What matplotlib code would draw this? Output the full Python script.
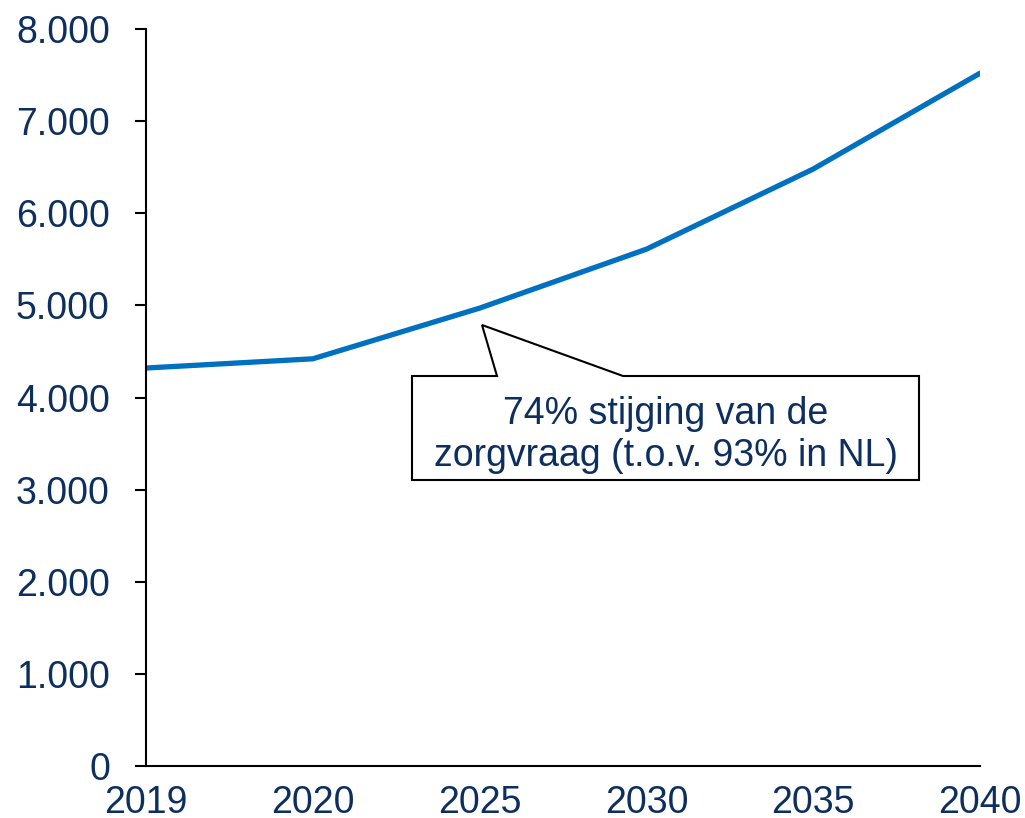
import matplotlib
matplotlib.use("Agg")
import matplotlib.pyplot as plt
from matplotlib.patches import Polygon
from matplotlib.ticker import FuncFormatter, MultipleLocator

years = ["2019", "2020", "2025", "2030", "2035", "2040"]
values = [4320, 4420, 4970, 5610, 6480, 7520]
callout_text = "74% stijging van de\nzorgvraag (t.o.v. 93% in NL)"

W, H = 1025, 818
text_color = "#0D2F5F"
line_color = "#0070C0"

plt.rcParams["font.family"] = ["Liberation Sans", "DejaVu Sans"]
fig = plt.figure(figsize=(W / 100, H / 100), dpi=100)
ax = fig.add_axes([146 / W, 1 - 766 / H, (980 - 146) / W, (766 - 29) / H])

x = list(range(len(years)))
ax.plot(x, values, color=line_color, lw=3.8, solid_capstyle="round", solid_joinstyle="round")
ax.set_xlim(0, len(years) - 1)
ax.set_ylim(0, 8000)
ax.set_xticks(x)
ax.set_xticklabels(years)
ax.yaxis.set_major_locator(MultipleLocator(1000))
ax.yaxis.set_major_formatter(FuncFormatter(lambda v, p: f"{int(v):,}".replace(",", ".")))

for s in ["top", "right"]:
    ax.spines[s].set_visible(False)
for s in ["left", "bottom"]:
    ax.spines[s].set_linewidth(1.5)
    ax.spines[s].set_color("black")
ax.tick_params(axis="y", length=8, width=1.5, pad=18, labelsize=27, labelcolor=text_color, direction="out")
ax.tick_params(axis="x", length=0, pad=14, labelsize=27, labelcolor=text_color)

# callout
pts = [(412, 376), (497, 376), (482, 325), (623, 376), (919, 376), (919, 480), (412, 480)]
poly = Polygon([(px / W, 1 - py / H) for px, py in pts], closed=True,
               transform=fig.transFigure, facecolor="white", edgecolor="black", lw=1.5, zorder=5)
fig.patches.append(poly)
fig.text((412 + 919) / 2 / W, 1 - 435 / H, callout_text, ha="center", va="center",
         fontsize=27, color=text_color, linespacing=1.25, zorder=6)

fig.savefig("out.png", dpi=100)
